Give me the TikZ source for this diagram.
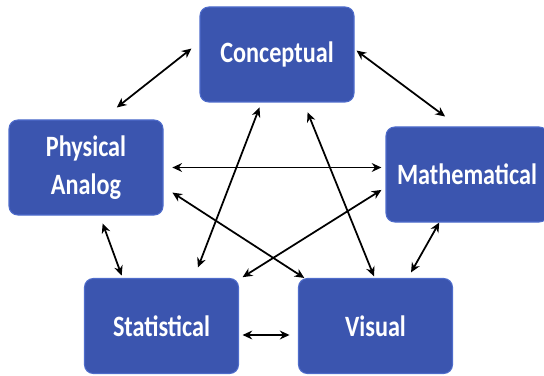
\documentclass[tikz,border=0pt]{standalone}
\usepackage{fontspec}
\newfontfamily\boxfont{Carlito}[FakeStretch=0.82]
\usetikzlibrary{arrows.meta}

\definecolor{boxblue}{HTML}{3B55AF}
\definecolor{boxedge}{HTML}{4E6CCB}

\begin{document}
\begin{tikzpicture}[
    block/.style={
        rectangle, rounded corners=5pt,
        draw=boxedge, line width=0.6pt,
        fill=boxblue,
        text=white,
        font=\boxfont\bfseries\fontsize{16.8}{21.6}\selectfont,
        align=center,
        minimum width=3.08cm,
        minimum height=1.9cm,
        inner sep=2pt,
    },
    link/.style={
        <->, >={Stealth[length=5.5pt,width=5pt]}, line width=1pt, black,
        shorten <=2pt, shorten >=2pt,
    },
]
\useasboundingbox (0,0) rectangle (10.88,7.5);

% 5 models round a pentagon
\node[block] (cpt) at (5.54, 6.41) {Conceptual};
\node[block] (phys) at (1.72, 4.15) {Physical\\Analog};
\node[block, minimum width=3.24cm] (math) at (9.34, 4.01) {Mathematical};
\node[block] (stat) at (3.23, 0.98) {Statistical};
\node[block] (vis) at (7.51, 0.98) {Visual};

% Outer ring
\draw[link, shorten <=5.8pt, shorten >=11pt] (cpt.171) -- (phys.72);
\draw[link, shorten <=1.4pt, shorten >=9.5pt] (cpt.4) -- (math.100);
\draw[link, shorten <=0pt, shorten >=3.6pt] (math.240) -- (vis.56);
\draw[link, shorten <=2pt, shorten >=4.8pt]
    ([yshift=-0.18cm]stat.east) -- ([yshift=-0.18cm]stat.east -| vis.west);
\draw[link, shorten <=4.8pt, shorten >=1.5pt] (phys.286) -- (stat.129);

% Inner star
\draw[link, shorten <=5pt, shorten >=2.3pt] (phys.east) -- (phys.east -| math.west);
\draw[link, shorten <=6pt, shorten >=0pt] (phys.-14) -- (vis.146);
\draw[link, shorten <=2.4pt, shorten >=2.7pt] (stat.31) -- (math.189);
\draw[link, shorten <=3pt, shorten >=6.4pt] (cpt.252) -- (stat.56);
\draw[link, shorten <=6pt, shorten >=1pt] (cpt.299) -- (vis.91);

\end{tikzpicture}
\end{document}
